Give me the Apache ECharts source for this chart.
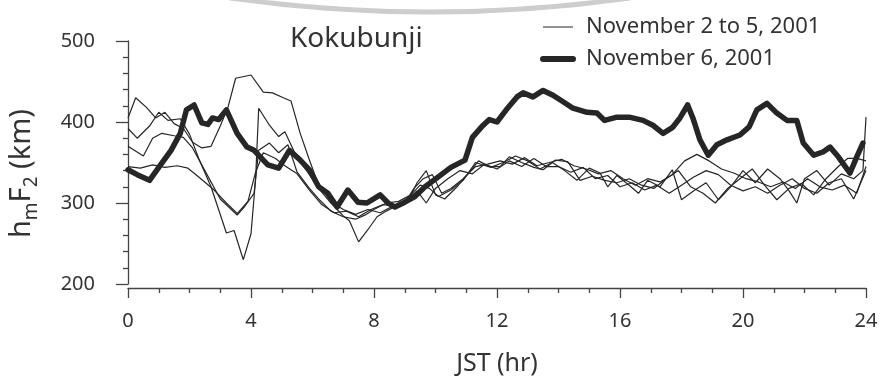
<!DOCTYPE html>
<html>
<head>
<meta charset="utf-8">
<script src="https://cdn.jsdelivr.net/npm/echarts@6/dist/echarts.min.js"></script>
<style>
  html, body { margin: 0; padding: 0; background: #fff; }
  #chart { width: 882px; height: 376px; }
</style>
</head>
<body>
<div id="chart"></div>
<script>
// [JST hour, hmF2 km]
const thinName = 'November 2 to 5, 2001';
const thickName = 'November 6, 2001';

const dayA = [[0,405],[0.25,430],[0.6,418],[0.9,405],[1.2,412],[1.5,398],[1.8,392],[2.1,375],[2.4,368],[2.7,370],[3.0,395],[3.25,418],[3.5,454],[4.0,458],[4.4,437],[4.7,436],[5.05,430],[5.3,426],[5.6,386],[5.9,353],[6.2,322],[6.6,302],[7.0,292],[7.4,286],[7.8,292],[8.2,288],[8.6,296],[9.0,300],[9.3,318],[9.6,330],[9.9,335],[10.2,312],[10.5,318],[10.9,330],[11.3,345],[11.7,348],[12.1,352],[12.5,348],[12.9,356],[13.3,346],[13.7,350],[14.1,354],[14.5,346],[14.9,342],[15.3,336],[15.7,340],[16.1,330],[16.5,322],[16.9,330],[17.3,326],[17.7,335],[18.1,352],[18.5,360],[18.9,352],[19.3,342],[19.7,337],[20.1,330],[20.5,326],[20.9,320],[21.3,326],[21.7,318],[22.1,330],[22.5,320],[22.9,316],[23.3,322],[23.7,312],[24,345]];
const dayB = [[0,392],[0.3,380],[0.7,395],[1.0,412],[1.3,402],[1.7,404],[2.0,385],[2.3,355],[2.7,320],[3.2,263],[3.45,266],[3.75,230],[4.0,262],[4.15,330],[4.25,417],[4.6,396],[4.9,382],[5.1,388],[5.5,356],[5.9,335],[6.2,318],[6.6,300],[7.0,284],[7.2,278],[7.5,252],[7.8,267],[8.1,283],[8.4,290],[8.8,298],[9.1,302],[9.4,325],[9.7,340],[10.0,310],[10.3,305],[10.7,320],[11.1,338],[11.4,352],[11.8,344],[12.2,350],[12.6,358],[13.0,352],[13.4,342],[13.8,350],[14.2,340],[14.6,328],[15.0,343],[15.35,337],[15.6,320],[15.9,334],[16.3,322],[16.6,312],[16.9,328],[17.3,320],[17.7,341],[18.0,304],[18.4,315],[18.8,325],[19.2,304],[19.6,320],[20.0,340],[20.4,325],[20.8,342],[21.2,330],[21.5,315],[21.75,300],[22.0,330],[22.4,340],[22.8,322],[23.2,336],[23.6,330],[23.9,340],[24,406]];
const dayC = [[0,370],[0.5,358],[0.8,380],[1.1,386],[1.5,383],[1.8,381],[2.1,368],[2.5,340],[3.0,305],[3.55,285],[3.8,296],[4.1,312],[4.25,365],[4.6,374],[4.9,362],[5.2,372],[5.5,338],[5.9,318],[6.2,305],[6.6,290],[7.0,283],[7.4,280],[7.7,285],[8.0,292],[8.4,300],[8.8,302],[9.2,310],[9.5,322],[9.8,318],[10.1,308],[10.5,316],[10.9,328],[11.3,350],[11.7,345],[12.1,345],[12.4,357],[12.8,350],[13.2,344],[13.5,341],[13.9,353],[14.3,351],[14.7,328],[15.1,333],[15.5,328],[15.9,325],[16.3,330],[16.7,322],[17.1,318],[17.5,330],[17.9,340],[18.3,320],[18.7,312],[19.1,300],[19.5,318],[19.9,330],[20.3,342],[20.7,322],[21.1,304],[21.5,318],[21.9,324],[22.3,310],[22.7,330],[23.1,345],[23.4,355],[23.7,355],[24,352]];
const dayD = [[0,345],[0.4,343],[0.8,347],[1.2,344],[1.6,346],[1.95,343],[2.3,332],[2.8,316],[3.2,300],[3.55,287],[3.9,302],[4.15,338],[4.4,362],[4.8,355],[5.1,346],[5.5,336],[5.9,316],[6.3,298],[6.7,288],[7.1,290],[7.5,283],[7.9,292],[8.3,298],[8.7,296],[9.1,305],[9.4,315],[9.7,300],[10.0,318],[10.4,330],[10.8,340],[11.2,336],[11.6,348],[12.0,342],[12.4,352],[12.8,345],[13.2,355],[13.6,345],[14.0,345],[14.4,338],[14.8,344],[15.2,330],[15.6,334],[16.0,320],[16.4,325],[16.8,316],[17.2,322],[17.6,312],[18.0,322],[18.4,332],[18.8,340],[19.2,335],[19.6,322],[20.0,315],[20.4,320],[20.8,312],[21.2,322],[21.6,330],[22.0,318],[22.4,312],[22.8,325],[23.2,330],[23.6,305],[24,340]];
const nov6 = [[0,341],[0.3,335],[0.7,328],[1.0,344],[1.4,365],[1.7,386],[1.9,415],[2.15,421],[2.4,399],[2.6,397],[2.75,405],[2.95,403],[3.2,415],[3.55,386],[3.87,369],[4.1,365],[4.4,353],[4.55,347],[4.9,343],[5.25,365],[5.6,353],[5.9,341],[6.2,320],[6.5,312],[6.8,295],[7.15,316],[7.48,301],[7.77,300],[8.2,310],[8.46,300],[8.68,295],[9.0,301],[9.33,308],[9.66,320],[10.08,332],[10.5,344],[10.96,353],[11.2,381],[11.5,394],[11.75,403],[12.0,400],[12.3,415],[12.65,431],[12.85,436],[13.17,431],[13.5,439],[13.82,433],[14.15,425],[14.47,417],[14.93,412],[15.25,411],[15.5,402],[15.9,406],[16.3,406],[16.75,402],[17.07,396],[17.4,386],[17.7,393],[17.95,405],[18.2,421],[18.37,405],[18.6,378],[18.87,359],[19.15,372],[19.48,378],[19.9,384],[20.2,394],[20.45,415],[20.78,423],[21.1,411],[21.43,402],[21.75,402],[21.96,374],[22.3,359],[22.6,363],[22.83,369],[23.1,357],[23.48,337],[23.7,357],[23.9,374]];

const font = 'Noto Sans';
const ink = '#262626';
const textInk = '#333';
const axisInk = '#444';

const chart = echarts.init(document.getElementById('chart'));

const thin = (data) => ({
  name: thinName,
  type: 'line',
  data,
  symbol: 'none',
  silent: true,
  color: ink,
  lineStyle: { color: ink, width: 1.2 },
});

chart.setOption({
  animation: false,
  textStyle: { fontFamily: font, color: textInk },
  title: {
    text: 'Kokubunji',
    left: 285,
    top: 20,
    textStyle: { fontFamily: font, fontSize: 28, fontWeight: 'normal', color: textInk },
  },
  legend: {
    orient: 'vertical',
    left: 535,
    top: 10,
    itemWidth: 30,
    itemHeight: 14,
    itemGap: 8,
    textStyle: { fontFamily: font, fontSize: 22, lineHeight: 24, color: textInk, padding: [0, 0, 0, 8] },
    data: [
      { name: thinName, lineStyle: { width: 1.3, color: '#555' }, itemStyle: { opacity: 0 } },
      { name: thickName, lineStyle: { width: 6, color: ink }, itemStyle: { opacity: 0 } },
    ],
  },
  grid: { left: 128, right: 16, top: 41, bottom: 92, outerBoundsMode: 'none' },
  xAxis: {
    type: 'value',
    min: 0,
    max: 24,
    interval: 4,
    offset: 4,
    name: 'JST (hr)',
    nameLocation: 'middle',
    nameGap: 63,
    nameTextStyle: { fontFamily: font, fontSize: 25, color: textInk },
    axisLine: { lineStyle: { color: axisInk, width: 1.3 } },
    axisTick: { length: 10, lineStyle: { color: axisInk, width: 1.3 } },
    minorTick: { show: true, splitNumber: 4, length: 5, lineStyle: { color: axisInk, width: 1.3 } },
    axisLabel: { margin: 23, fontFamily: font, fontSize: 20, color: textInk },
    splitLine: { show: false },
  },
  yAxis: {
    type: 'value',
    min: 200,
    max: 500,
    interval: 100,
    offset: 20,
    name: '{n|h}{s|m}{n|F}{s|2}{n| (km)}',
    nameLocation: 'middle',
    nameGap: 70,
    nameTextStyle: {
      padding: [0, 22, 0, 0],
      rich: {
        n: { fontFamily: font, fontSize: 29, lineHeight: 32, color: textInk },
        s: { fontFamily: font, fontSize: 19, lineHeight: 19, verticalAlign: 'bottom', color: textInk, padding: [0, 0, -3, 0] },
      },
    },
    axisLine: { show: true, lineStyle: { color: axisInk, width: 1.3 } },
    axisTick: { length: 12, lineStyle: { color: axisInk, width: 1.3 } },
    minorTick: { show: true, splitNumber: 5, length: 5, lineStyle: { color: axisInk, width: 1.3 } },
    axisLabel: { margin: 13, fontFamily: font, fontSize: 20, color: textInk },
    splitLine: { show: false },
  },
  graphic: [
    {
      // grey scan arc along the top edge
      type: 'bezierCurve',
      silent: true,
      shape: { x1: 230, y1: -2, x2: 630, y2: -2, cpx1: 430, cpy1: 26 },
      style: { stroke: '#cdcdcd', lineWidth: 5, fill: null },
    },
  ],
  series: [
    thin(dayA),
    thin(dayB),
    thin(dayC),
    thin(dayD),
    {
      name: thickName,
      type: 'line',
      data: nov6,
      symbol: 'none',
      silent: true,
      z: 3,
      color: ink,
      lineStyle: { color: ink, width: 5.5, cap: 'round', join: 'round' },
    },
  ],
});
</script>
</body>
</html>
